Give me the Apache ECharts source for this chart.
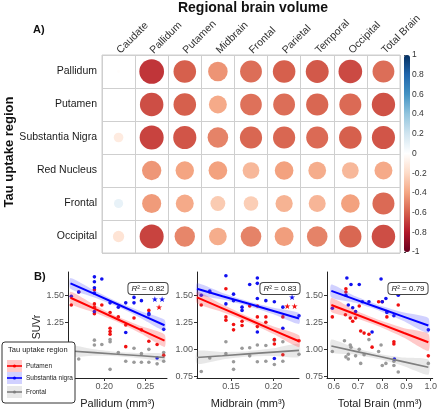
<!DOCTYPE html>
<html><head><meta charset="utf-8">
<script src="https://cdn.jsdelivr.net/npm/echarts@6/dist/echarts.min.js"></script>
<style>html,body{margin:0;padding:0;background:#fff}#c{width:440px;height:410px}</style>
</head><body><div id="c"></div>
<script>
// ---------- Panel A data ----------
const volumeCols = ['Caudate','Pallidum','Putamen','Midbrain','Frontal','Parietal','Temporal','Occipital','Total Brain'];
const tauRows = ['Pallidum','Putamen','Substantia Nigra','Red Nucleus','Frontal','Occipital'];
const corrPallidum   = [-0.01,-0.72,-0.60,-0.45,-0.56,-0.60,-0.62,-0.66,-0.56];
const corrPutamen    = [-0.005,-0.65,-0.60,-0.38,-0.55,-0.56,-0.58,-0.57,-0.64];
const corrSN         = [-0.11,-0.68,-0.63,-0.50,-0.58,-0.58,-0.57,-0.60,-0.63];
const corrRedNucleus = [0.0,-0.44,-0.40,-0.41,-0.33,-0.41,-0.37,-0.33,-0.38];
const corrFrontal    = [0.10,-0.43,-0.38,-0.26,-0.25,-0.35,-0.34,-0.41,-0.57];
const corrOccipital  = [-0.15,-0.68,-0.49,-0.37,-0.50,-0.42,-0.50,-0.58,-0.65];
const corrRowsData = [corrPallidum,corrPutamen,corrSN,corrRedNucleus,corrFrontal,corrOccipital];
const colorbarTicks = [-1,-0.8,-0.6,-0.4,-0.2,0,0.2,0.4,0.6,0.8,1];

// ---------- Panel B data ----------
const seriesNames = ['Putamen','Substantia nigra','Frontal'];
// Pallidum
const p1Red  = [[0.160,1.41],[0.169,1.53],[0.188,1.55],[0.188,1.42],[0.188,1.39],[0.197,1.41],[0.188,1.33],[0.207,1.34],[0.207,1.195],[0.207,1.165],[0.207,1.14],[0.217,1.30],[0.226,1.225],[0.226,1.025],[0.236,1.29],[0.245,1.18],[0.254,1.36],[0.254,1.075],[0.264,1.045],[0.272,0.945]];
const p1Blue = [[0.160,1.49],[0.169,1.53],[0.188,1.67],[0.188,1.625],[0.188,1.57],[0.197,1.65],[0.188,1.35],[0.207,1.43],[0.217,1.39],[0.226,1.43],[0.226,1.155],[0.236,1.48],[0.236,1.43],[0.245,1.45],[0.254,1.33],[0.254,1.32],[0.272,1.185],[0.264,0.92],[0.188,1.52]];
const p1Gray = [[0.160,0.93],[0.169,0.91],[0.188,1.085],[0.188,1.04],[0.197,1.045],[0.207,1.09],[0.207,1.07],[0.207,0.815],[0.217,0.97],[0.226,0.89],[0.236,1.01],[0.236,0.88],[0.245,0.96],[0.245,0.88],[0.254,1.0],[0.254,0.88],[0.264,0.866],[0.272,0.89],[0.272,0.97]];
const p1FitX = [0.159,0.188,0.216,0.245,0.273];
const p1RedFit = [1.477,1.376,1.278,1.178,1.080];
const p1RedLo  = [1.422,1.341,1.253,1.143,1.022];
const p1RedHi  = [1.532,1.411,1.303,1.213,1.138];
const p1BlueFit = [1.610,1.512,1.417,1.318,1.223];
const p1BlueLo  = [1.560,1.480,1.395,1.286,1.173];
const p1BlueHi  = [1.660,1.544,1.439,1.350,1.273];
const p1GrayFit = [0.985,0.970,0.955,0.940,0.925];
const p1GrayLo  = [0.935,0.940,0.935,0.915,0.890];
const p1GrayHi  = [1.035,1.000,0.975,0.965,0.960];
// Midbrain
const p2Red  = [[0.115,1.41],[0.125,1.53],[0.144,1.56],[0.144,1.30],[0.144,1.27],[0.153,1.23],[0.153,1.18],[0.163,1.26],[0.163,1.22],[0.172,1.40],[0.181,1.40],[0.181,1.30],[0.181,1.21],[0.191,1.30],[0.191,1.25],[0.201,1.09],[0.201,1.05],[0.211,1.30],[0.211,0.95],[0.230,1.08]];
const p2Blue = [[0.115,1.50],[0.125,1.54],[0.144,1.68],[0.144,1.42],[0.153,1.51],[0.153,1.45],[0.163,1.39],[0.172,1.60],[0.181,1.66],[0.181,1.61],[0.181,1.47],[0.181,1.16],[0.191,1.45],[0.201,1.44],[0.211,1.39],[0.211,1.195],[0.230,1.31],[0.201,0.915],[0.163,1.36]];
const p2Gray = [[0.115,0.795],[0.125,0.92],[0.144,1.07],[0.144,0.96],[0.153,0.885],[0.153,0.815],[0.163,1.01],[0.172,1.015],[0.181,1.04],[0.181,0.885],[0.191,1.035],[0.191,0.89],[0.201,1.085],[0.201,0.86],[0.211,1.07],[0.211,0.89],[0.230,0.955],[0.172,0.94]];
const p2FitX = [0.110,0.140,0.170,0.200,0.230];
const p2RedFit = [1.480,1.379,1.278,1.176,1.075];
const p2RedLo  = [1.425,1.344,1.253,1.141,1.020];
const p2RedHi  = [1.535,1.414,1.303,1.211,1.130];
const p2BlueFit = [1.560,1.491,1.423,1.354,1.285];
const p2BlueLo  = [1.510,1.461,1.401,1.324,1.235];
const p2BlueHi  = [1.610,1.521,1.445,1.384,1.335];
const p2GrayFit = [0.925,0.941,0.958,0.974,0.990];
const p2GrayLo  = [0.865,0.906,0.933,0.939,0.930];
const p2GrayHi  = [0.985,0.976,0.983,1.009,1.050];
// Total Brain
const p3Red  = [[0.594,1.30],[0.650,1.56],[0.650,1.53],[0.648,1.32],[0.668,1.29],[0.678,1.26],[0.690,1.29],[0.705,1.40],[0.711,1.17],[0.725,1.15],[0.745,1.14],[0.758,1.02],[0.785,1.44],[0.819,1.30],[0.848,1.07],[0.848,1.05],[0.866,1.41],[0.990,0.94],[0.819,1.35],[0.800,1.44]];
const p3Blue = [[0.594,1.38],[0.650,1.50],[0.654,1.66],[0.671,1.60],[0.660,1.41],[0.678,1.385],[0.690,1.35],[0.705,1.60],[0.718,1.44],[0.745,1.44],[0.795,1.65],[0.800,1.44],[0.815,1.47],[0.819,1.34],[0.848,1.31],[0.866,1.50],[0.990,1.18],[0.758,1.16],[0.850,0.91]];
const p3Gray = [[0.594,0.98],[0.644,1.08],[0.650,0.93],[0.660,0.955],[0.668,1.04],[0.671,1.02],[0.690,0.94],[0.705,1.00],[0.711,0.87],[0.725,0.95],[0.745,1.09],[0.785,0.98],[0.795,1.04],[0.800,0.85],[0.815,0.87],[0.848,0.89],[0.848,0.85],[0.866,0.79],[0.990,0.87],[0.660,0.91]];
const p3FitX = [0.590,0.690,0.790,0.890,0.990];
const p3RedFit = [1.410,1.324,1.238,1.151,1.065];
const p3RedLo  = [1.345,1.289,1.208,1.106,0.985];
const p3RedHi  = [1.475,1.359,1.268,1.196,1.145];
const p3BlueFit = [1.540,1.460,1.380,1.300,1.220];
const p3BlueLo  = [1.480,1.430,1.355,1.260,1.150];
const p3BlueHi  = [1.600,1.490,1.405,1.340,1.290];
const p3GrayFit = [1.030,0.981,0.933,0.884,0.835];
const p3GrayLo  = [0.970,0.951,0.908,0.844,0.765];
const p3GrayHi  = [1.090,1.011,0.958,0.924,0.905];

const r2Labels = ['0.82','0.83','0.79'];
const xNames = ['Pallidum (mm³)','Midbrain (mm³)','Total Brain (mm³)'];
const xTicks = [[0.20,0.25],[0.15,0.20],[0.6,0.7,0.8,0.9,1.0]];
const xDecimals = [2,2,1];
const xRanges = [[0.156,0.276],[0.110,0.230],[0.572,1.008]];
const yTicks = [0.75,1.00,1.25,1.50];
const yRange = [0.735,1.715];

// ---------- styling ----------
const FONT = "'Liberation Sans', Arial, sans-serif";
const RdBu = ['#67001F','#B2182B','#D6604D','#F4A582','#FDDBC7','#FFFFFF','#D1E5F0','#92C5DE','#4393C3','#2166AC','#053061'];
const CELL = 33.1;
const RED='#F01010', BLUE='#1010F0', GRAY='#9A9A9A';
const RED_BAND='rgba(255,60,60,0.28)', BLUE_BAND='rgba(70,70,255,0.25)', GRAY_BAND='rgba(140,140,140,0.2)';

const corrData = [];
corrRowsData.forEach((row, r) => row.forEach((v, c) => corrData.push([c, r, v])));

const grids = [
  {left:102, top:55, width:298, height:198, show:true, borderColor:'#cfcfcf', borderWidth:1},
  {left:68, top:272, width:99, height:108},
  {left:197, top:272, width:102, height:108},
  {left:327, top:272, width:106, height:108},
  {left:404, top:55, width:6, height:197}
];

const xAxes = [{
  type:'category', gridIndex:0, position:'top', data:volumeCols,
  axisLine:{show:false}, axisTick:{show:false},
  axisLabel:{rotate:-45, interval:0, fontSize:10.5, color:'#333', fontFamily:FONT, margin:3},
  splitLine:{show:true, lineStyle:{color:'#cfcfcf', width:1}}
}];
const yAxes = [{
  type:'category', gridIndex:0, inverse:true, data:tauRows,
  axisLine:{show:false}, axisTick:{show:false},
  axisLabel:{interval:0, fontSize:10.5, color:'#1a1a1a', fontFamily:FONT, margin:5},
  splitLine:{show:true, lineStyle:{color:'#cfcfcf', width:1}}
}];
for (let p=0;p<3;p++){
  xAxes.push({
    type:'value', gridIndex:p+1, min:xRanges[p][0], max:xRanges[p][1],
    name:xNames[p], nameLocation:'middle', nameGap:20,
    nameTextStyle:{fontSize:11, color:'#222', fontFamily:FONT},
    axisLine:{show:true, lineStyle:{color:'#222', width:1}},
    axisTick:{show:true, length:3, customValues:xTicks[p], lineStyle:{color:'#333'}},
    axisLabel:{customValues:xTicks[p], fontSize:9, color:'#555', fontFamily:FONT, margin:4,
      formatter:(v)=>Number(v).toFixed(xDecimals[p])},
    splitLine:{show:false}
  });
  yAxes.push({
    type:'value', gridIndex:p+1, min:yRange[0], max:yRange[1],
    axisLine:{show:true, lineStyle:{color:'#222', width:1}},
    axisTick:{show:true, length:3, customValues:yTicks, lineStyle:{color:'#333'}},
    axisLabel:{customValues:yTicks, fontSize:9, color:'#555', fontFamily:FONT, margin:4,
      formatter:(v)=>Number(v).toFixed(2)},
    splitLine:{show:false}
  });
}
xAxes.push({type:'value', gridIndex:4, show:false, min:0, max:1});
yAxes.push({type:'value', gridIndex:4, position:'right', min:-1, max:1, interval:0.2,
  axisLine:{show:false}, axisTick:{show:true, length:2, lineStyle:{color:'#444'}},
  axisLabel:{fontSize:8.5, color:'#333', fontFamily:FONT, margin:2,
    formatter:(v)=>String(Math.round(v*10)/10)},
  splitLine:{show:false}});

function bandSeries(gi, xs, lo, hi, color){
  return {
    type:'custom', xAxisIndex:gi, yAxisIndex:gi, silent:true, z:3,
    data:[[xs[0], lo[0]]],
    renderItem:function(params, api){
      const pts=[];
      for (let i=0;i<xs.length;i++) pts.push(api.coord([xs[i], hi[i]]));
      for (let i=xs.length-1;i>=0;i--) pts.push(api.coord([xs[i], lo[i]]));
      return {type:'polygon', shape:{points:pts, smooth:0.2}, style:{fill:color}};
    }
  };
}
function fitLine(gi, xs, ys, color, w){
  return {type:'line', xAxisIndex:gi, yAxisIndex:gi, silent:true, z:4, showSymbol:false,
    data: xs.map((x,i)=>[x, ys[i]]), lineStyle:{color:color, width:w}};
}
function pts(gi, data, color, name){
  return {type:'scatter', name:name, xAxisIndex:gi, yAxisIndex:gi, z:2, symbolSize:3.6,
    data:data, itemStyle:{color:color, opacity:1}};
}

const series = [{
  type:'scatter', xAxisIndex:0, yAxisIndex:0, data:corrData,
  symbolSize:(val)=>0.88*CELL*Math.sqrt(Math.abs(val[2])),
  itemStyle:{opacity:1}, z:2
}];
const panels = [
  [p1Red,p1Blue,p1Gray,p1FitX,p1RedFit,p1RedLo,p1RedHi,p1BlueFit,p1BlueLo,p1BlueHi,p1GrayFit,p1GrayLo,p1GrayHi],
  [p2Red,p2Blue,p2Gray,p2FitX,p2RedFit,p2RedLo,p2RedHi,p2BlueFit,p2BlueLo,p2BlueHi,p2GrayFit,p2GrayLo,p2GrayHi],
  [p3Red,p3Blue,p3Gray,p3FitX,p3RedFit,p3RedLo,p3RedHi,p3BlueFit,p3BlueLo,p3BlueHi,p3GrayFit,p3GrayLo,p3GrayHi]
];
panels.forEach((P, k)=>{
  const gi = k+1;
  series.push(pts(gi, P[2], GRAY, seriesNames[2]));
  series.push(pts(gi, P[0], RED, seriesNames[0]));
  series.push(pts(gi, P[1], BLUE, seriesNames[1]));
  series.push(bandSeries(gi, P[3], P[11], P[12], GRAY_BAND));
  series.push(bandSeries(gi, P[3], P[5], P[6], RED_BAND));
  series.push(bandSeries(gi, P[3], P[8], P[9], BLUE_BAND));
  series.push(fitLine(gi, P[3], P[10], '#7f7f7f', 1.6));
  series.push(fitLine(gi, P[3], P[4], '#FF0000', 2));
  series.push(fitLine(gi, P[3], P[7], '#0000FF', 2));
});

const r2Pos = [[148,288.5],[280,288.5],[408,288.5]];
const graphics = [
  {type:'text', x:253, y:8, z:50, style:{text:'Regional brain volume', font:"bold 14px "+FONT, fill:'#111', align:'center', verticalAlign:'middle'}},
  {type:'text', x:33, y:30, z:50, style:{text:'A)', font:"bold 11px "+FONT, fill:'#111', align:'left', verticalAlign:'middle'}},
  {type:'text', x:34, y:277, z:50, style:{text:'B)', font:"bold 11px "+FONT, fill:'#111', align:'left', verticalAlign:'middle'}},
  {type:'text', x:9, y:152, rotation:Math.PI/2, z:50, style:{text:'Tau uptake region', font:"bold 13px "+FONT, fill:'#111', align:'center', verticalAlign:'middle'}},
  {type:'text', x:37, y:327, rotation:Math.PI/2, z:50, style:{text:'SUVr', font:"10.5px "+FONT, fill:'#222', align:'center', verticalAlign:'middle'}}
];
r2Pos.forEach((p,i)=>{
  graphics.push({type:'text', x:p[0], y:p[1], z:60, style:{
    text:'{i|R}² = '+r2Labels[i], rich:{i:{fontStyle:'italic', fontSize:8, fontFamily:FONT, fill:'#222'}},
    font:"8px "+FONT, fill:'#222', align:'center', verticalAlign:'middle',
    backgroundColor:'#fff', borderColor:'#444', borderWidth:1, borderRadius:3, padding:[1.5,3]}});
});
const starFont = "8px 'DejaVu Sans', sans-serif";
graphics.push({type:'text', x:158.5, y:299.5, z:60, style:{text:'★★', font:starFont, fill:BLUE, align:'center', verticalAlign:'middle'}});
graphics.push({type:'text', x:159, y:307.5, z:60, style:{text:'★', font:starFont, fill:RED, align:'center', verticalAlign:'middle'}});
graphics.push({type:'text', x:292, y:297.5, z:60, style:{text:'★', font:starFont, fill:BLUE, align:'center', verticalAlign:'middle'}});
graphics.push({type:'text', x:291, y:306.5, z:60, style:{text:'★★', font:starFont, fill:RED, align:'center', verticalAlign:'middle'}});

// legend box
graphics.push({type:'rect', z:80, shape:{x:2, y:342, width:73, height:61, r:3}, style:{fill:'#fff', stroke:'#333', lineWidth:1}});
graphics.push({type:'text', z:81, x:8, y:350, style:{text:'Tau uptake region', font:"7.5px "+FONT, fill:'#222', align:'left', verticalAlign:'middle'}});
const legKeys = [[366,'#FF0000',RED_BAND,seriesNames[0]],[378,'#0000FF',BLUE_BAND,seriesNames[1]],[392,'#7f7f7f',GRAY_BAND,seriesNames[2]]];
legKeys.forEach(k=>{
  graphics.push({type:'rect', z:81, shape:{x:7, y:k[0]-6, width:15, height:12}, style:{fill:k[2]}});
  graphics.push({type:'line', z:82, shape:{x1:7, y1:k[0], x2:22, y2:k[0]}, style:{stroke:k[1], lineWidth:1.6}});
  graphics.push({type:'circle', z:83, shape:{cx:14.5, cy:k[0], r:1.6}, style:{fill:k[1]}});
  graphics.push({type:'text', z:81, x:26, y:k[0], style:{text:k[3], font:"6.5px "+FONT, fill:'#222', align:'left', verticalAlign:'middle'}});
});

const chart = echarts.init(document.getElementById('c'), null, {renderer:'canvas'});
chart.setOption({
  animation:false,
  backgroundColor:'#fff',
  textStyle:{fontFamily:FONT},
  grid:grids, xAxis:xAxes, yAxis:yAxes,
  visualMap:{type:'continuous', min:-1, max:1, dimension:2, seriesIndex:0,
    inRange:{color:RdBu}, left:404, top:55, itemWidth:6, itemHeight:197, padding:0,
    calculable:false, orient:'vertical', text:null, showLabel:false},
  series:series,
  graphic:graphics
});
</script></body></html>
